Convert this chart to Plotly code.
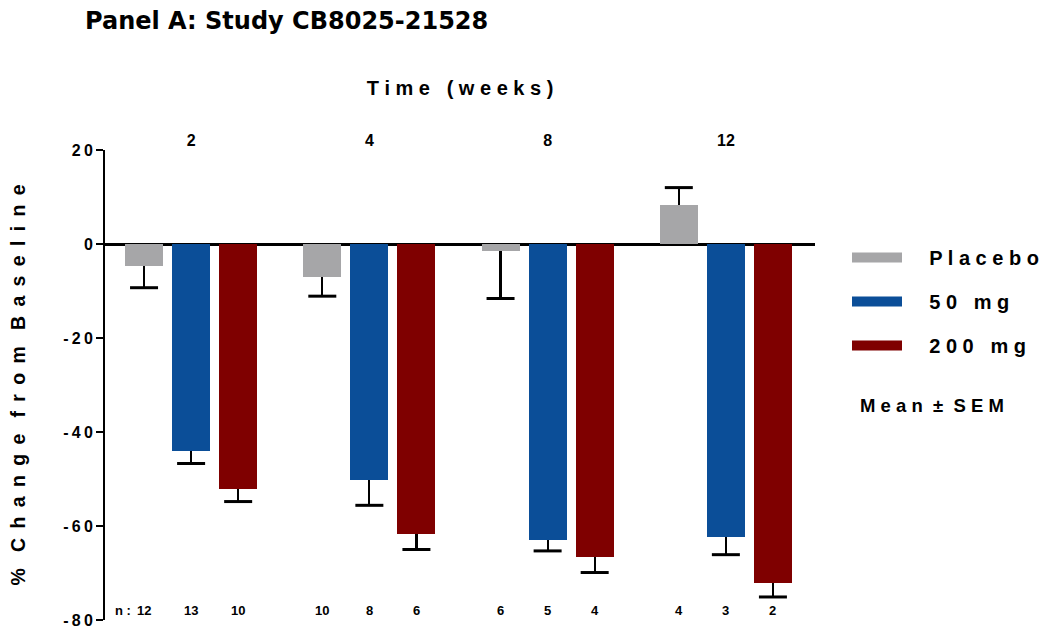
import plotly.graph_objects as go

weeks = ["2", "4", "8", "12"]
series_names = ["Placebo", "50 mg", "200 mg"]
legend_labels = ["P l a c e b o", "5 0   m g", "2 0 0   m g"]
placebo_mean = [-4.7, -7.0, -1.5, 8.2]
placebo_sem = [4.6, 4.1, 10.1, 3.8]
mg50_mean = [-44.0, -50.3, -62.9, -62.4]
mg50_sem = [2.7, 5.3, 2.4, 3.7]
mg200_mean = [-52.2, -61.8, -66.5, -72.1]
mg200_sem = [2.6, 3.2, 3.4, 3.0]
placebo_n = [12, 10, 6, 4]
mg50_n = [13, 8, 5, 3]
mg200_n = [10, 6, 4, 2]
y_ticks = [20, 0, -20, -40, -60, -80]

colors = ["#A6A6A8", "#0B4E98", "#7F0000"]
means = [placebo_mean, mg50_mean, mg200_mean]
sems = [placebo_sem, mg50_sem, mg200_sem]
ns = [placebo_n, mg50_n, mg200_n]
offsets = [-0.264, 0.0, 0.264]
bar_w = 0.213
FONT = "Liberation Sans"
NB = "\u00a0"


def spaced(text, gap=" \u2009", word_gap="   "):
    return word_gap.join(gap.join(w) for w in text.split(" "))


fig = go.Figure()
for k in range(3):
    xs = [i + offsets[k] for i in range(len(weeks))]
    plus = [s if m > 0 else 0 for m, s in zip(means[k], sems[k])]
    minus = [s if m < 0 else 0 for m, s in zip(means[k], sems[k])]
    fig.add_trace(go.Bar(
        x=xs, y=means[k], width=bar_w, name=series_names[k],
        legendgroup=series_names[k], showlegend=False,
        marker=dict(color=colors[k], line=dict(width=0)),
        error_y=dict(type="data", symmetric=False, array=plus, arrayminus=minus,
                     color="black", thickness=2.2, width=0),
    ))
    tips = [m + s if m > 0 else m - s for m, s in zip(means[k], sems[k])]
    fig.add_trace(go.Scatter(
        x=xs, y=tips, mode="markers", showlegend=False, hoverinfo="skip",
        marker=dict(symbol="line-ew", size=20, line=dict(color="black", width=3)),
    ))
    # legend entry (wide swatch)
    fig.add_trace(go.Scatter(
        x=[None], y=[None], mode="lines", name=NB * 4 + legend_labels[k],
        legendgroup=series_names[k], showlegend=True,
        line=dict(color=colors[k], width=13),
    ))
    for i, n in enumerate(ns[k]):
        fig.add_annotation(x=xs[i], y=-80, xref="x", yref="y", text=str(n),
                           showarrow=False, yanchor="bottom", yshift=0,
                           font=dict(family=FONT, size=13, color="black", weight="bold"))

fig.add_annotation(x=offsets[0], y=-80, xref="x", yref="y", text="n :",
                   showarrow=False, yanchor="bottom", xanchor="right", xshift=-11,
                   font=dict(family=FONT, size=13, color="black", weight="bold"))

fig.add_annotation(x=(858 - 105) / 710, y=(620 - 405) / 470, xref="paper", yref="paper",
                   text="M e a n  ±  S E M", showarrow=False, xanchor="left",
                   yanchor="middle",
                   font=dict(family=FONT, size=18.5, color="black", weight="bold"))

fig.update_layout(
    width=1052, height=631,
    margin=dict(l=105, r=237, t=150, b=11, autoexpand=False),
    plot_bgcolor="white", paper_bgcolor="white",
    bargap=0, barmode="overlay",
    title=dict(text="Panel A: Study CB8025-21528", x=85 / 1052, xanchor="left",
               xref="container", y=1 - 21 / 631, yanchor="middle", yref="container",
               font=dict(family="DejaVu Sans", size=24, color="black", weight="bold")),
    xaxis=dict(range=[-0.483, 3.5], side="top", tickvals=list(range(len(weeks))),
               ticktext=weeks, showline=False, showgrid=False, zeroline=False,
               automargin=False,
               ticks="", tickfont=dict(family=FONT, size=16, color="black", weight="bold"),
               title=dict(text="T i m e   ( w e e k s )", standoff=30,
                          font=dict(family=FONT, size=20, color="black", weight="bold"))),
    yaxis=dict(range=[-80, 20], tickvals=y_ticks, automargin=False,
               ticktext=["\u2009".join(str(v)) for v in y_ticks],
               showline=True, linecolor="black", linewidth=2, ticks="outside",
               ticklen=7, tickwidth=2, tickcolor="black", showgrid=False,
               zeroline=True, zerolinecolor="black", zerolinewidth=3,
               tickfont=dict(family=FONT, size=16, color="black", weight="bold"),
               title=dict(text=spaced("% Change from Baseline"), standoff=32,
                          font=dict(family=FONT, size=19.5, color="black", weight="bold"))),
    legend=dict(x=847 / 1052, y=1 - 238 / 631, xref="container", yref="container",
                xanchor="left", yanchor="top",
                font=dict(family=FONT, size=20, color="black", weight="bold"),
                itemwidth=50, tracegroupgap=15, bgcolor="rgba(0,0,0,0)"),
)

fig.write_html("out.html")
